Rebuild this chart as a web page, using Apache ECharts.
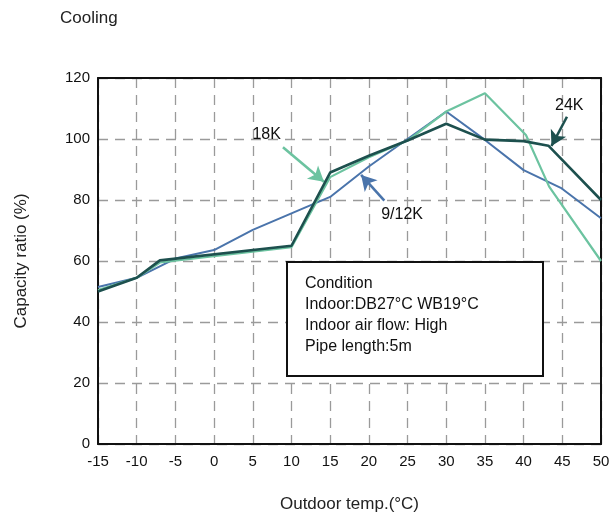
<!DOCTYPE html>
<html><head><meta charset="utf-8">
<script src="https://cdn.jsdelivr.net/npm/echarts@6/dist/echarts.min.js"></script>
<style>html,body{margin:0;padding:0;background:#fff}#c{width:615px;height:523px}</style>
</head><body><div id="c"></div>
<script>
var xTicks = [-15,-10,-5,0,5,10,15,20,25,30,35,40,45,50];
var s24K = [[-15,50],[-10,54.5],[-7,60.2],[10,65],[15,89],[20,94.5],[25,99.5],[30,105],[35,99.8],[40,99.3],[43.2,97.8],[50,80]];
var s18K = [[-15,50.5],[-10,54.5],[-7,59.5],[10,64.5],[15,87.5],[20,94],[25,99.5],[30,109],[35,115],[40.3,101.3],[43.3,84.4],[50,60]];
var s912K = [[-15,51.5],[-10,54.5],[-5,60.8],[0,63.6],[5,70.2],[10,75.6],[15,81],[20,91],[25,100],[30,109],[35,99.7],[40,89.8],[44.8,84],[50,74]];
var arrows = [
  {name:'18K', from:[8.9,97.3], to:[14.2,86], text:[6.8,101.3], color:'#6cc3a0'},
  {name:'9/12K', from:[22,79.8], to:[19,88.2], text:[24.3,75.1], color:'#4a74ab'},
  {name:'24K', from:[45.6,107.3], to:[43.6,97.7], text:[45.9,110.9], color:'#1d504e'}
];
var conditionLines = ['Condition','Indoor:DB27°C WB19°C','Indoor air flow: High','Pipe length:5m'];
var FONT = 'Liberation Sans, Arial, sans-serif';
var chart = echarts.init(document.getElementById('c'));
function mkArrow(a){
  return {type:'line', data:[], silent:true, markLine:{silent:true, symbol:['none','arrow'], symbolSize:[13,15],
    lineStyle:{color:a.color,width:2.6,type:'solid'}, label:{show:false}, animation:false,
    data:[[{coord:a.from},{coord:a.to}]]}};
}
var frameAxis = {show:true, axisLine:{show:true,onZero:false,lineStyle:{color:'#111',width:2}}, axisTick:{show:false}, axisLabel:{show:false}, splitLine:{show:false}};
chart.setOption({
  animation:false,
  title:{text:'Cooling', left:55, top:5, textStyle:{fontFamily:FONT,fontSize:17,fontWeight:'normal',color:'#222'}},
  grid:{left:98, right:14, top:78, bottom:79},
  xAxis:[{type:'value', min:-15, max:50, interval:5,
    name:'Outdoor temp.(°C)', nameLocation:'middle', nameGap:52,
    nameTextStyle:{fontFamily:FONT,fontSize:17,color:'#222'},
    axisLine:{show:true,onZero:false,lineStyle:{color:'#111',width:2}},
    axisTick:{show:false},
    axisLabel:{fontFamily:FONT,fontSize:15,color:'#111',margin:10},
    splitLine:{show:true,lineStyle:{color:'#9a9a9a',type:[10,7],width:1.3}}},
    Object.assign({type:'value', min:-15, max:50, interval:5, position:'top'}, frameAxis)],
  yAxis:[{type:'value', min:0, max:120, interval:20,
    name:'Capacity ratio (%)', nameLocation:'middle', nameGap:68,
    nameTextStyle:{fontFamily:FONT,fontSize:17,color:'#222'},
    axisLine:{show:true,onZero:false,lineStyle:{color:'#111',width:2}},
    axisTick:{show:false},
    axisLabel:{fontFamily:FONT,fontSize:15,color:'#111',margin:8},
    splitLine:{show:true,lineStyle:{color:'#9a9a9a',type:[10,7],width:1.3}}},
    Object.assign({type:'value', min:0, max:120, interval:20, position:'right'}, frameAxis)],
  series:[
    {name:'9/12K', type:'line', data:s912K, symbol:'none', lineStyle:{color:'#4a74ab',width:2}, z:3},
    {name:'18K', type:'line', data:s18K, symbol:'none', lineStyle:{color:'#6cc3a0',width:2.2}, z:4},
    {name:'24K', type:'line', data:s24K, symbol:'none', lineStyle:{color:'#1d504e',width:2.6}, z:5},
    mkArrow(arrows[0]), mkArrow(arrows[1]), mkArrow(arrows[2])
  ]
});
var g = [];
arrows.forEach(function(a){
  var p = chart.convertToPixel({xAxisIndex:0, yAxisIndex:0}, a.text);
  g.push({type:'text', x:p[0], y:p[1], z:100, style:{text:a.name, fontFamily:FONT, fontSize:16, fill:'#111', align:'center', verticalAlign:'middle'}});
});
g.push({type:'rect', shape:{x:287, y:262, width:256, height:114}, style:{fill:'#fff', stroke:'#111', lineWidth:2}, z:50});
g.push({type:'text', x:305, y:273, z:51, style:{text:conditionLines.join('\n'), fontFamily:FONT, fontSize:16, lineHeight:21, fill:'#111'}});
chart.setOption({graphic:g});
</script></body></html>
